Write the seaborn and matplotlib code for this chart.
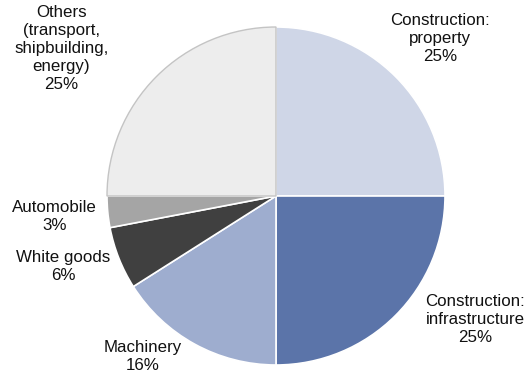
import matplotlib
matplotlib.use("Agg")
import matplotlib.pyplot as plt
import seaborn as sns

sns.set_theme(style="white")
plt.rcParams["font.family"] = ["Liberation Sans", "DejaVu Sans"]

# Steel demand by end use (share, %)
labels = ["Construction:\nproperty", "Construction:\ninfrastructure", "Machinery",
          "White goods", "Automobile", "Others\n(transport,\nshipbuilding,\nenergy)"]
shares = [25, 25, 16, 6, 3, 25]
colors = ["#cfd6e7", "#5b74a9", "#9eadcf", "#404040", "#a5a5a5", "#ededed"]

# label anchor points in axes units (pie radius = 1)
label_pos = [(0.97, 0.93), (1.18, -0.73), (-0.79, -0.95),
             (-1.26, -0.42), (-1.31, -0.12), (-1.27, 0.87)]

W, H, DPI = 526, 372, 100
fig = plt.figure(figsize=(W / DPI, H / DPI), dpi=DPI)
ax = fig.add_axes([0, 0, 1, 1])

cx, cy, r = 276, 196, 169

wedges, _ = ax.pie(shares, colors=colors, startangle=90, counterclock=False,
                   radius=1.0, center=(0, 0), frame=True,
                   wedgeprops=dict(edgecolor="white", linewidth=1.2))
wedges[-1].set_edgecolor("#c4c4c4")
wedges[-1].set_linewidth(1.0)
ax.set_xlim(-cx / r, (W - cx) / r)
ax.set_ylim(-(H - cy) / r, cy / r)
ax.set_aspect("equal")
ax.axis("off")

for lab, val, (x, y) in zip(labels, shares, label_pos):
    ax.text(x, y, f"{lab}\n{val}%", ha="center", va="center",
            fontsize=12.2, color="#111111", linespacing=1.25)

fig.savefig("out.png", dpi=DPI)
